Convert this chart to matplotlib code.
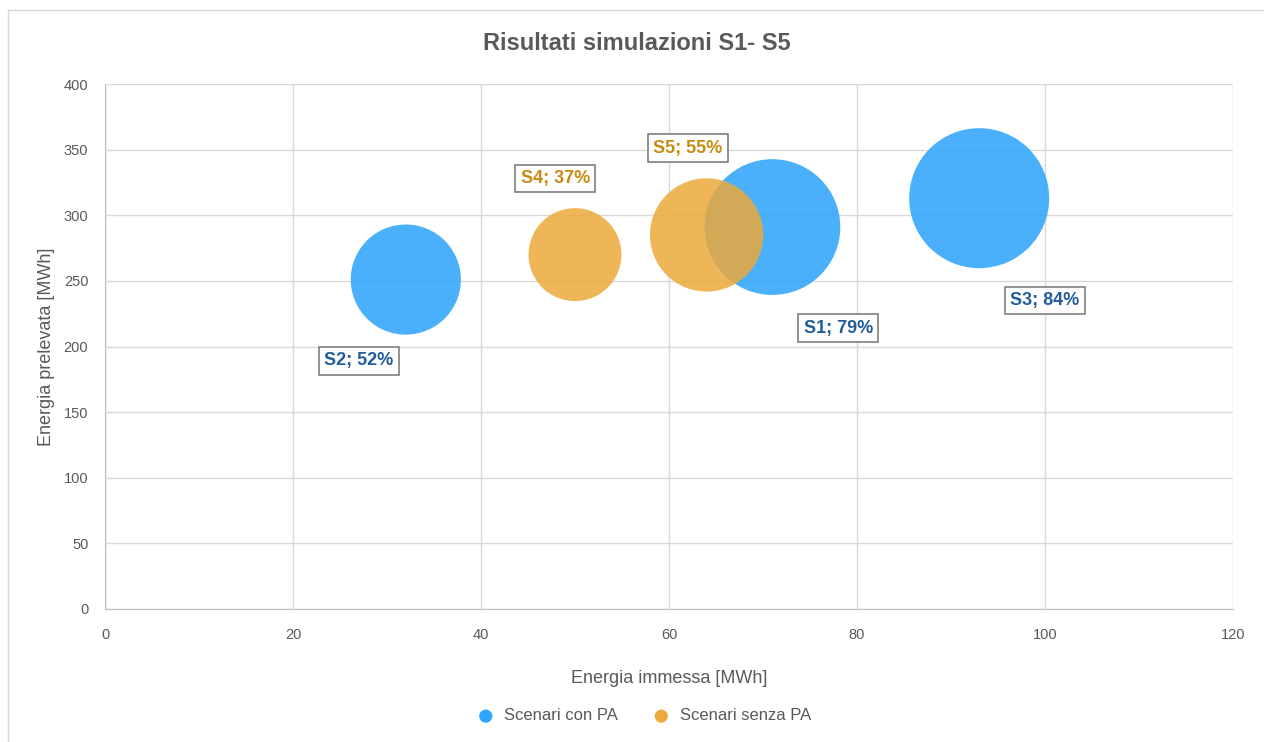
import matplotlib
matplotlib.use('Agg')
import matplotlib.pyplot as plt
import numpy as np
from matplotlib.patches import Rectangle

# scenari con PA / senza PA
names_pa = ['S1', 'S2', 'S3']
x_pa = [71, 32, 93]
y_pa = [291, 251, 313]
pct_pa = [79, 52, 84]
lab_pa = [(78, 214), (27, 189), (100, 235)]

names_no = ['S4', 'S5']
x_no = [50, 64]
y_no = [270, 285]
pct_no = [37, 55]
lab_no = [(47.9, 328), (62, 351)]

blue = '#2FA5FB'
orange = '#EBAA3A'
blue_txt = '#215E99'
orange_txt = '#C98A12'
grey = '#595959'

plt.rcParams['font.family'] = ['Liberation Sans', 'DejaVu Sans']
narrow = ['Liberation Sans Narrow', 'Liberation Sans', 'DejaVu Sans']

fig = plt.figure(figsize=(12.64, 7.42), dpi=100)
ax = fig.add_axes([105/1264, 1-609/742, 1128/1264, 525/742])

# bubble area proportional to percentage (as Excel does)
k = 10161 / 84
ax.scatter(x_pa, y_pa, s=np.array(pct_pa) * k, color=blue, alpha=0.87,
           edgecolors='none', zorder=3, label='Scenari con PA')
ax.scatter(x_no, y_no, s=np.array(pct_no) * k, color=orange, alpha=0.85,
           edgecolors='none', zorder=4, label='Scenari senza PA')

box = dict(boxstyle='square,pad=0.3', fc='white', ec='#7F7F7F', lw=1.2)
for n, p, (lx, ly) in zip(names_pa, pct_pa, lab_pa):
    ax.text(lx, ly, f'{n}; {p}%', color=blue_txt, fontsize=13, fontweight='bold',
            family=narrow, ha='center', va='center', bbox=box, zorder=5)
for n, p, (lx, ly) in zip(names_no, pct_no, lab_no):
    ax.text(lx, ly, f'{n}; {p}%', color=orange_txt, fontsize=13, fontweight='bold',
            family=narrow, ha='center', va='center', bbox=box, zorder=5)

ax.set_xlim(0, 120)
ax.set_ylim(0, 400)
ax.set_xticks(range(0, 121, 20))
ax.set_yticks(range(0, 401, 50))
ax.grid(True, color='#D9D9D9', lw=1)
ax.set_axisbelow(True)
for s in ['top', 'right']:
    ax.spines[s].set_visible(False)
for s in ['left', 'bottom']:
    ax.spines[s].set_color('#BFBFBF')
ax.tick_params(length=0, colors=grey, labelsize=10.5, pad=14)
ax.tick_params(axis='y', pad=12)

ax.set_xlabel('Energia immessa [MWh]', fontsize=13, color=grey, labelpad=20)
ax.set_ylabel('Energia prelevata [MWh]', fontsize=13, color=grey, labelpad=6)

fig.text(637/1264, 1-43/742, 'Risultati simulazioni S1- S5', ha='center', va='center',
         fontsize=17, fontweight='bold', color=grey, family=narrow)

leg = fig.legend(loc='center', bbox_to_anchor=(640/1264, 1-716/742), ncol=2,
                 frameon=False, fontsize=12, markerscale=0.1, handletextpad=0.1,
                 columnspacing=1.6, labelcolor=grey)
for h in leg.legend_handles:
    h.set_sizes([90])
    h.set_alpha(1)

fig.patches.append(Rectangle((8/1264, -0.01), 1.1, 1 - 10/742 + 0.01,
                             transform=fig.transFigure, fill=False,
                             ec='#D9D9D9', lw=1))

fig.savefig('out.png', dpi=100)
